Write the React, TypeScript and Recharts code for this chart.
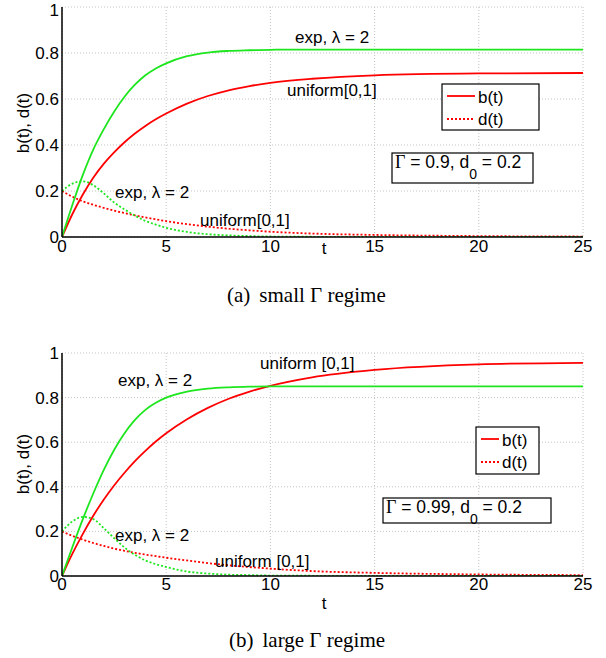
import { LineChart, Line, XAxis, YAxis, CartesianGrid } from "recharts";

const tValues = [0, 0.5, 1, 1.5, 2, 2.5, 3, 3.5, 4, 4.5, 5, 6, 7, 8, 9, 10, 12, 15, 20, 25];
const xTicks = [0, 5, 10, 15, 20, 25];
const yTicks = [0, 0.2, 0.4, 0.6, 0.8, 1];

// (a) small Gamma regime
const bExpSmall = [0, 0.14, 0.27, 0.38, 0.468, 0.545, 0.61, 0.662, 0.703, 0.733, 0.755, 0.786, 0.802, 0.809, 0.812, 0.814, 0.815, 0.815, 0.815, 0.815];
const bUniSmall = [0, 0.1, 0.185, 0.258, 0.318, 0.368, 0.412, 0.45, 0.483, 0.512, 0.537, 0.58, 0.613, 0.638, 0.656, 0.67, 0.688, 0.703, 0.711, 0.713];
const dExpSmall = [0.2, 0.232, 0.242, 0.225, 0.19, 0.15, 0.12, 0.093, 0.07, 0.054, 0.04, 0.022, 0.012, 0.007, 0.004, 0.002, 0.001, 0, 0, 0];
const dUniSmall = [0.2, 0.175, 0.155, 0.14, 0.127, 0.115, 0.104, 0.094, 0.085, 0.077, 0.069, 0.056, 0.045, 0.036, 0.029, 0.023, 0.015, 0.009, 0.004, 0.002];

// (b) large Gamma regime
const bExpLarge = [0, 0.13, 0.255, 0.37, 0.475, 0.565, 0.64, 0.7, 0.745, 0.777, 0.8, 0.827, 0.84, 0.846, 0.849, 0.85, 0.85, 0.85, 0.85, 0.85];
const bUniLarge = [0, 0.1, 0.189, 0.27, 0.342, 0.406, 0.463, 0.515, 0.561, 0.603, 0.64, 0.703, 0.754, 0.795, 0.827, 0.853, 0.891, 0.924, 0.949, 0.956];
const dExpLarge = [0.2, 0.245, 0.265, 0.255, 0.215, 0.17, 0.128, 0.095, 0.07, 0.053, 0.04, 0.02, 0.011, 0.006, 0.004, 0.002, 0.001, 0, 0, 0];
const dUniLarge = [0.2, 0.18, 0.163, 0.148, 0.135, 0.123, 0.113, 0.104, 0.096, 0.089, 0.082, 0.07, 0.058, 0.048, 0.04, 0.033, 0.022, 0.014, 0.007, 0.004];

const SANS = '"Liberation Sans", Arial, Helvetica, sans-serif';
const SERIF = '"Liberation Serif", "Times New Roman", serif';
const RED = "#ff0000";
const GREEN = "#1ee61e";

function buildRows(bExp: number[], bUni: number[], dExp: number[], dUni: number[]) {
  return tValues.map((t, i) => ({ t, bExp: bExp[i], bUni: bUni[i], dExp: dExp[i], dUni: dUni[i] }));
}

const smallRows = buildRows(bExpSmall, bUniSmall, dExpSmall, dUniSmall);
const largeRows = buildRows(bExpLarge, bUniLarge, dExpLarge, dUniLarge);

type PanelProps = { rows: any[]; top: number; height: number; plotTop: number; plotBottom: number; labelGap: number };

function Panel({ rows, top, height, plotTop, plotBottom, labelGap }: PanelProps) {
  const tick = { fill: "#000", fontSize: 17, fontFamily: SANS };
  return (
    <div style={{ position: "absolute", left: 0, top }}>
      <LineChart width={606} height={height} data={rows} margin={{ top: plotTop, right: 23, bottom: 0, left: 0 }}>
        <CartesianGrid stroke="#c4c4c4" strokeDasharray="1 2" />
        <XAxis dataKey="t" type="number" domain={[0, 25]} ticks={xTicks} allowDataOverflow
          height={height - plotBottom} tick={tick} tickLine={false} tickSize={0} tickMargin={labelGap}
          axisLine={{ stroke: "#000", strokeWidth: 1.5 }} />
        <XAxis xAxisId="bm" orientation="bottom" mirror type="number" domain={[0, 25]} ticks={xTicks} allowDataOverflow
          height={0} tick={false} tickSize={5} tickLine={{ stroke: "#000" }} axisLine={false} />
        <XAxis xAxisId="tm" orientation="top" mirror type="number" domain={[0, 25]} ticks={xTicks} allowDataOverflow
          height={0} tick={false} tickSize={5} tickLine={{ stroke: "#000" }} axisLine={{ stroke: "#000", strokeWidth: 1.5 }} />
        <YAxis type="number" domain={[0, 1]} ticks={yTicks} allowDataOverflow width={62}
          tick={tick} tickLine={false} tickSize={0} tickMargin={3} axisLine={{ stroke: "#000", strokeWidth: 1.5 }} />
        <YAxis yAxisId="lm" orientation="left" mirror type="number" domain={[0, 1]} ticks={yTicks} allowDataOverflow width={0}
          tick={false} tickSize={5} tickLine={{ stroke: "#000" }} axisLine={false} />
        <YAxis yAxisId="rm" orientation="right" mirror type="number" domain={[0, 1]} ticks={yTicks} allowDataOverflow width={0}
          tick={false} tickSize={5} tickLine={{ stroke: "#000" }} axisLine={{ stroke: "#000", strokeWidth: 1.5 }} />
        <Line type="monotone" dataKey="dUni" stroke={RED} strokeWidth={1.8} strokeDasharray="2 2" dot={false} isAnimationActive={false} />
        <Line type="monotone" dataKey="dExp" stroke={GREEN} strokeWidth={1.8} strokeDasharray="2 2" dot={false} isAnimationActive={false} />
        <Line type="monotone" dataKey="bUni" stroke={RED} strokeWidth={1.8} dot={false} isAnimationActive={false} />
        <Line type="monotone" dataKey="bExp" stroke={GREEN} strokeWidth={1.8} dot={false} isAnimationActive={false} />
      </LineChart>
    </div>
  );
}

const curveLabels = [
  { x: 295, y: 37, text: "exp, \u03bb = 2" },
  { x: 287, y: 90, text: "uniform[0,1]" },
  { x: 115, y: 192, text: "exp, \u03bb = 2" },
  { x: 200, y: 220, text: "uniform[0,1]" },
  { x: 260, y: 363, text: "uniform [0,1]" },
  { x: 118, y: 380, text: "exp, \u03bb = 2" },
  { x: 115, y: 535, text: "exp, \u03bb = 2" },
  { x: 215, y: 561, text: "uniform [0,1]" },
];

function LegendBox({ x, y, w, h, lineLen }: { x: number; y: number; w: number; h: number; lineLen: number }) {
  const lx = x + 5;
  return (
    <g>
      <rect x={x} y={y} width={w} height={h} fill="#fff" stroke="#000" strokeWidth={1.2} />
      <line x1={lx} x2={lx + lineLen} y1={y + 12} y2={y + 12} stroke={RED} strokeWidth={1.8} />
      <line x1={lx} x2={lx + lineLen} y1={y + 35} y2={y + 35} stroke={RED} strokeWidth={1.8} strokeDasharray="2 2" />
      <text x={lx + lineLen + 3} y={y + 13} fontSize={17} fontFamily={SANS} dominantBaseline="central">b(t)</text>
      <text x={lx + lineLen + 3} y={y + 35} fontSize={17} fontFamily={SANS} dominantBaseline="central">d(t)</text>
    </g>
  );
}

function ParamBox({ x, y, w, h, gamma, baseline }: { x: number; y: number; w: number; h: number; gamma: string; baseline: number }) {
  return (
    <g>
      <rect x={x} y={y} width={w} height={h} fill="#fff" stroke="#000" strokeWidth={1.2} />
      <text x={x + 3} y={baseline} fontSize={17.5} fontFamily={SANS}>
        <tspan fontFamily={SERIF} fontSize={18}>{"\u0393"}</tspan>
        <tspan>{` = ${gamma}, d`}</tspan>
        <tspan dy={11} fontSize={14}>0</tspan>
        <tspan dy={-11}>{" = 0.2"}</tspan>
      </text>
    </g>
  );
}

export default function App() {
  return (
    <div style={{ position: "absolute", left: 0, top: 0, width: 606, height: 658, background: "#fff" }}>
      <Panel rows={smallRows} top={0} height={265} plotTop={7} plotBottom={237} labelGap={3} />
      <Panel rows={largeRows} top={330} height={280} plotTop={23} plotBottom={246} labelGap={2} />
      <svg width={606} height={658} style={{ position: "absolute", left: 0, top: 0, pointerEvents: "none" }}>
        {curveLabels.map((l, i) => (
          <text key={i} x={l.x} y={l.y} fontSize={17} fontFamily={SANS} dominantBaseline="central">{l.text}</text>
        ))}
        <text x={324} y={248} fontSize={17} fontFamily={SANS} textAnchor="middle" dominantBaseline="central">t</text>
        <text x={324} y={603} fontSize={17} fontFamily={SANS} textAnchor="middle" dominantBaseline="central">t</text>
        <text transform="translate(23,123) rotate(-90)" fontSize={17} fontFamily={SANS} textAnchor="middle" dominantBaseline="central">b(t), d(t)</text>
        <text transform="translate(23,464) rotate(-90)" fontSize={17} fontFamily={SANS} textAnchor="middle" dominantBaseline="central">b(t), d(t)</text>
        <LegendBox x={442} y={84} w={97} h={46} lineLen={28} />
        <LegendBox x={476} y={427} w={63} h={47} lineLen={18} />
        <ParamBox x={392} y={153} w={141} h={30} gamma="0.9" baseline={168} />
        <ParamBox x={383} y={498} w={168} h={25} gamma="0.99" baseline={513} />
        <text x={227} y={295} fontSize={21} fontFamily={SERIF} dominantBaseline="central">
          (a)<tspan dx={9}>small {"\u0393"} regime</tspan>
        </text>
        <text x={229} y={640} fontSize={21} fontFamily={SERIF} dominantBaseline="central">
          (b)<tspan dx={9}>large {"\u0393"} regime</tspan>
        </text>
      </svg>
    </div>
  );
}
